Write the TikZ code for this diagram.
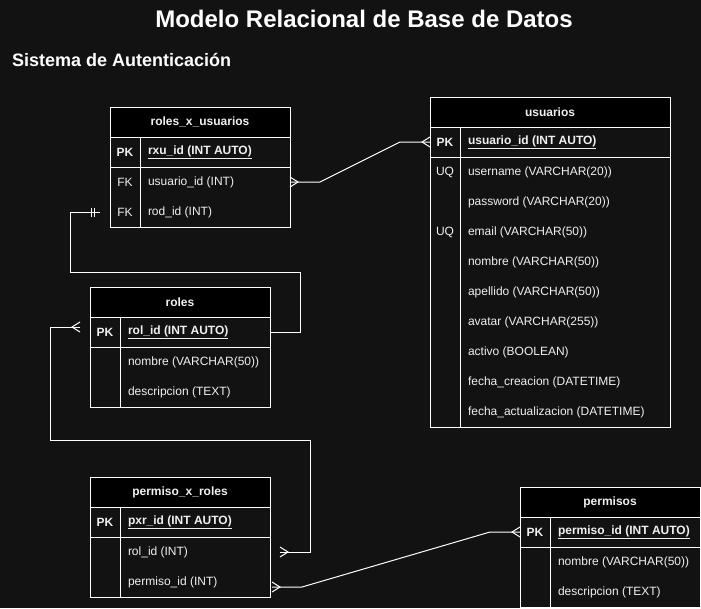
\documentclass[tikz,border=0pt]{standalone}
\usepackage{fontspec}
\setmainfont{Liberation Sans}
\usetikzlibrary{arrows.meta, positioning}

\definecolor{fondo}{HTML}{121212}
\definecolor{letra}{HTML}{F0F0F0}

% pata de gallo (muchos)
\pgfdeclarearrow{
  name = Crow,
  parameters = {\the\pgfarrowlength,\the\pgfarrowwidth},
  setup code = {
    \pgfarrowssettipend{0pt}
    \pgfarrowssetlineend{0pt}
    \pgfarrowssetbackend{-\pgfarrowlength}
    \pgfarrowssetvisualbackend{-\pgfarrowlength}
    \pgfarrowshullpoint{0pt}{.5\pgfarrowwidth}
    \pgfarrowshullpoint{0pt}{-.5\pgfarrowwidth}
    \pgfarrowshullpoint{-\pgfarrowlength}{0pt}
    \pgfarrowssavethe\pgfarrowlength
    \pgfarrowssavethe\pgfarrowwidth
  },
  drawing code = {
    \pgfpathmoveto{\pgfqpoint{0pt}{.5\pgfarrowwidth}}
    \pgfpathlineto{\pgfqpoint{-\pgfarrowlength}{0pt}}
    \pgfpathlineto{\pgfqpoint{0pt}{-.5\pgfarrowwidth}}
    \pgfusepathqstroke
  },
  defaults = {length = 8pt, width = 10pt}
}

% dos barras (uno y solo uno)
\pgfdeclarearrow{
  name = DosBarras,
  parameters = {\the\pgfarrowwidth},
  setup code = {
    \pgfarrowssettipend{0pt}
    \pgfarrowssetlineend{0pt}
    \pgfarrowssetbackend{-8pt}
    \pgfarrowssetvisualbackend{-8pt}
    \pgfarrowshullpoint{-6pt}{.5\pgfarrowwidth}
    \pgfarrowshullpoint{-8pt}{-.5\pgfarrowwidth}
    \pgfarrowssavethe\pgfarrowwidth
  },
  drawing code = {
    \pgfpathmoveto{\pgfqpoint{-6pt}{.5\pgfarrowwidth}}
    \pgfpathlineto{\pgfqpoint{-6pt}{-.5\pgfarrowwidth}}
    \pgfpathmoveto{\pgfqpoint{-8.5pt}{.5\pgfarrowwidth}}
    \pgfpathlineto{\pgfqpoint{-8.5pt}{-.5\pgfarrowwidth}}
    \pgfusepathqstroke
  },
  defaults = {width = 9pt}
}

\begin{document}
\begin{tikzpicture}
  [
  x = 1pt, y = -1pt,
  % cabecera
  cabecera/.style = {rectangle,
    draw=white, fill=black, text=letra,
    font=\fontsize{12}{14}\selectfont\bfseries,
    minimum height = 30pt, minimum width = 180pt,
    inner sep=0pt, outer sep=0pt, anchor=north west},
  % clave
  clave/.style = {rectangle,
    text=letra, font=\fontsize{12}{14}\selectfont,
    minimum width = 30pt, minimum height = 30pt,
    inner sep=0pt, outer sep=0pt},
  % campo
  campo/.style = {text=letra,
    font=\fontsize{12}{14}\selectfont,
    inner sep=0pt, outer sep=0pt},
  pk/.style = {font=\fontsize{12}{14}\selectfont\bfseries},
  % lineas
  borde/.style = {draw=white, line width=1pt},
  linea/.style = {draw=white, line width=1pt},
  muchos/.tip = {Crow},
  uno/.tip = {DosBarras},
  ]

  \fill [fondo] (0,0) rectangle (701,608);
  \useasboundingbox (0,0) rectangle (701,608);

  % titulos
  \node [text=white, font=\fontsize{24}{28}\selectfont\bfseries] (titulo) at (364,19) {Modelo Relacional de Base de Datos};
  \node [text=white, font=\fontsize{18}{21}\selectfont\bfseries, anchor=west, inner sep=0pt] (subtitulo) at (12,60) {Sistema de Autenticación};

  % roles_x_usuarios
  \node [cabecera] (rxuH) at (110,107) {roles\_x\_usuarios};
  \node [clave, pk, below right=0pt of rxuH.south west] (rxuK1) {PK};
  \node [clave, below=0pt of rxuK1] (rxuK2) {FK};
  \node [clave, below=0pt of rxuK2] (rxuK3) {FK};
  \node [campo, pk, right=8pt of rxuK1] (rxuA1) {\underline{rxu\_id (INT AUTO)}};
  \node [campo, right=8pt of rxuK2] (rxuA2) {usuario\_id (INT)};
  \node [campo, right=8pt of rxuK3] (rxuA3) {rod\_id (INT)};
  \draw [borde] (rxuH.south west) rectangle (rxuK3.south -| rxuH.east);
  \draw [borde] (rxuK1.south west) -- (rxuK1.south -| rxuH.east);
  \draw [borde] (rxuK1.north east) -- (rxuK3.south east);

  % usuarios
  \node [cabecera, minimum width=240pt] (usuH) at (430,97) {usuarios};
  \node [clave, pk, below right=0pt of usuH.south west] (usuK1) {PK};
  \node [clave, below=0pt of usuK1] (usuK2) {UQ};
  \node [clave, below=0pt of usuK2] (usuK3) {};
  \node [clave, below=0pt of usuK3] (usuK4) {UQ};
  \node [clave, below=0pt of usuK4] (usuK5) {};
  \node [clave, below=0pt of usuK5] (usuK6) {};
  \node [clave, below=0pt of usuK6] (usuK7) {};
  \node [clave, below=0pt of usuK7] (usuK8) {};
  \node [clave, below=0pt of usuK8] (usuK9) {};
  \node [clave, below=0pt of usuK9] (usuK10) {};
  \node [campo, pk, right=8pt of usuK1] (usuA1) {\underline{usuario\_id (INT AUTO)}};
  \node [campo, right=8pt of usuK2] (usuA2) {username (VARCHAR(20))};
  \node [campo, right=8pt of usuK3] (usuA3) {password (VARCHAR(20))};
  \node [campo, right=8pt of usuK4] (usuA4) {email (VARCHAR(50))};
  \node [campo, right=8pt of usuK5] (usuA5) {nombre (VARCHAR(50))};
  \node [campo, right=8pt of usuK6] (usuA6) {apellido (VARCHAR(50))};
  \node [campo, right=8pt of usuK7] (usuA7) {avatar (VARCHAR(255))};
  \node [campo, right=8pt of usuK8] (usuA8) {activo (BOOLEAN)};
  \node [campo, right=8pt of usuK9] (usuA9) {fecha\_creacion (DATETIME)};
  \node [campo, right=8pt of usuK10] (usuA10) {fecha\_actualizacion (DATETIME)};
  \draw [borde] (usuH.south west) rectangle (usuK10.south -| usuH.east);
  \draw [borde] (usuK1.south west) -- (usuK1.south -| usuH.east);
  \draw [borde] (usuK1.north east) -- (usuK10.south east);

  % roles
  \node [cabecera] (rolH) at (90,287) {roles};
  \node [clave, pk, below right=0pt of rolH.south west] (rolK1) {PK};
  \node [clave, below=0pt of rolK1] (rolK2) {};
  \node [clave, below=0pt of rolK2] (rolK3) {};
  \node [campo, pk, right=8pt of rolK1] (rolA1) {\underline{rol\_id (INT AUTO)}};
  \node [campo, right=8pt of rolK2] (rolA2) {nombre (VARCHAR(50))};
  \node [campo, right=8pt of rolK3] (rolA3) {descripcion (TEXT)};
  \draw [borde] (rolH.south west) rectangle (rolK3.south -| rolH.east);
  \draw [borde] (rolK1.south west) -- (rolK1.south -| rolH.east);
  \draw [borde] (rolK1.north east) -- (rolK3.south east);

  % permiso_x_roles
  \node [cabecera] (pxrH) at (90,477) {permiso\_x\_roles};
  \node [clave, pk, below right=0pt of pxrH.south west] (pxrK1) {PK};
  \node [clave, below=0pt of pxrK1] (pxrK2) {};
  \node [clave, below=0pt of pxrK2] (pxrK3) {};
  \node [campo, pk, right=8pt of pxrK1] (pxrA1) {\underline{pxr\_id (INT AUTO)}};
  \node [campo, right=8pt of pxrK2] (pxrA2) {rol\_id (INT)};
  \node [campo, right=8pt of pxrK3] (pxrA3) {permiso\_id (INT)};
  \draw [borde] (pxrH.south west) rectangle (pxrK3.south -| pxrH.east);
  \draw [borde] (pxrK1.south west) -- (pxrK1.south -| pxrH.east);
  \draw [borde] (pxrK1.north east) -- (pxrK3.south east);

  % permisos
  \node [cabecera] (perH) at (520,487) {permisos};
  \node [clave, pk, below right=0pt of perH.south west] (perK1) {PK};
  \node [clave, below=0pt of perK1] (perK2) {};
  \node [clave, below=0pt of perK2] (perK3) {};
  \node [campo, pk, right=8pt of perK1] (perA1) {\underline{permiso\_id (INT AUTO)}};
  \node [campo, right=8pt of perK2] (perA2) {nombre (VARCHAR(50))};
  \node [campo, right=8pt of perK3] (perA3) {descripcion (TEXT)};
  \draw [borde] (perH.south west) rectangle (perK3.south -| perH.east);
  \draw [borde] (perK1.south west) -- (perK1.south -| perH.east);
  \draw [borde] (perK1.north east) -- (perK3.south east);

  % relaciones
  \path [linea, muchos-muchos] (rxuK2 -| rxuH.east) -- ++(30,0)
    -- ([xshift=-30pt]usuK1.west) -- (usuK1.west);
  \path [linea, -uno] (rolK1 -| rolH.east) -- ++(30,0) -- ++(0,-60)
    -| ([xshift=-40pt]rxuK3.west) -- ([xshift=-10pt]rxuK3.west);
  \path [linea, muchos-muchos] ([xshift=10pt]pxrK2 -| pxrH.east) -- ++(30,0) -- ++(0,-112)
    -| ([xshift=-40pt, yshift=5pt]rolK1.west) -- ([xshift=-10pt, yshift=5pt]rolK1.west);
  \path [linea, muchos-muchos] ([xshift=2pt, yshift=-5pt]pxrK3 -| pxrH.east) -- ++(30,0)
    -- ([xshift=-30pt]perK1.west) -- (perK1.west);

\end{tikzpicture}
\end{document}
